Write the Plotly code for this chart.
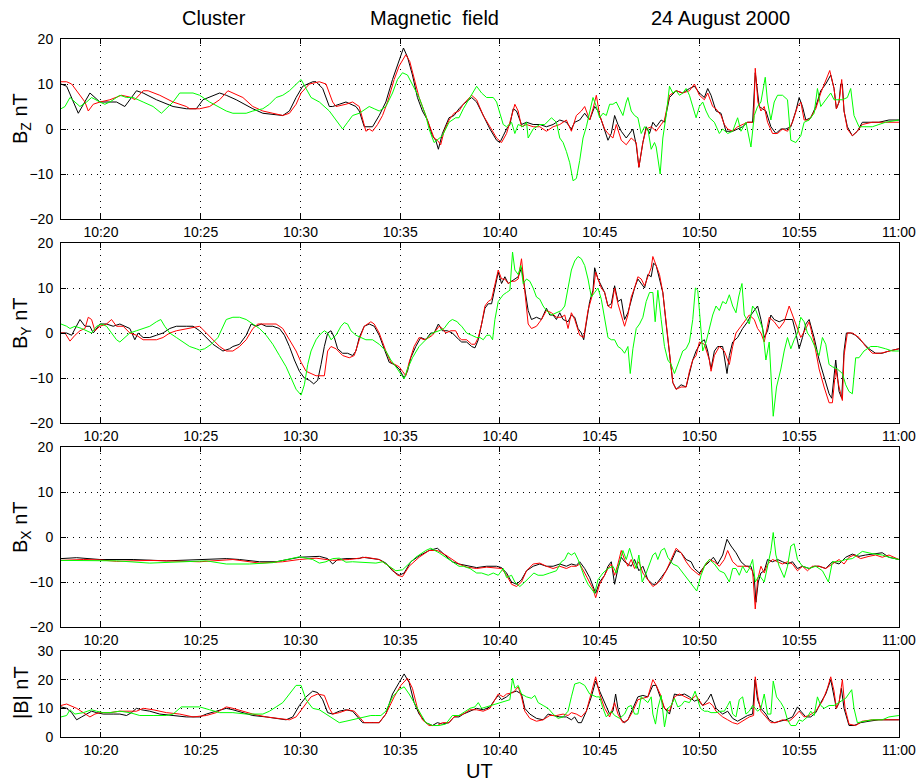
import plotly.graph_objects as go
from datetime import datetime, timedelta

# Cluster FGM magnetic field, 24 August 2000, 10:18-11:00 UT.
# Each series: (seconds after 10:18:00 UT, value in nT).
# C1 black, C2 red, C3 green.

BZ_C1 = [(0,10),(17,9.5),(52,3.5),(87,8),(117,6),(157,6),(167,6),(192,5),(227,8.5),(247,8),(287,6.5),(337,5),(377,4.5),(407,4.5),(427,6.5),(477,8),(497,7.5),(527,6.5),(577,4.5),(607,3.5),(647,3.2),(667,3),(687,4),(707,7),(727,9.5),(757,10.5),(767,10.5),(787,9),(807,5),(817,5),(837,5.5),(857,6),(887,5),(897,4),(912,0.5),(937,0.5),(957,3),(977,6),(997,11),(1017,15),(1030,18),(1042,16),(1057,12),(1072,7),(1087,4),(1102,2),(1117,-1.5),(1127,-2.5),(1135,-4.5),(1147,-1),(1167,2.5),(1182,3),(1197,4.5),
         (1210,5.5),(1235,7),(1250,6),(1270,3),(1290,0),(1310,-2.5),(1320,-3),(1330,-1.5),(1340,0),(1350,1),(1360,4.5),(1370,4),(1385,1),(1400,1.5),(1420,1),(1440,1),(1460,0.5),(1480,1),(1500,2),(1520,1.5),(1535,0),(1545,1.5),(1560,2),(1575,3.5),(1590,2),(1605,5),(1615,4),(1625,2),(1635,-0.5),(1645,-2.5),(1655,-1),(1665,3),(1675,1),(1685,-0.5),(1700,-2),(1710,-1),(1720,0),(1730,-3.5),(1738,-8.5),(1750,-3),(1760,0.5),(1770,-1),(1780,1.5),(1790,0.5),(1805,2),(1815,1.5),(1830,7),(1850,8.5),(1870,8),(1890,9),(1905,9.5),(1920,8),(1935,7),(1945,9),(1955,7.5),(1970,4),(1985,3.5),(2000,-0.5),(2020,-0.5),(2035,0),(2050,0.5),(2065,1.5),(2080,1.5),(2088,12.5),(2100,5),(2110,4.5),(2120,4),(2135,0.5),(2150,-1),(2165,0),(2180,0),(2195,0.5),(2210,4),(2220,7),(2230,5),(2240,2),(2255,2.5),(2270,5),(2285,8.5),(2300,10),(2315,12),(2325,9),(2332,4.5),(2340,6),(2345,10),(2350,10),(2355,4),(2365,0.5),(2380,-1.5),(2395,-0.5),(2410,1.5),(2430,1.5),(2460,1.5),(2490,2),(2520,2)]

BZ_C2 = [(0,10.5),(17,10.5),(32,10),(52,8),(72,6),(82,4),(97,5.5),(117,6),(147,6.5),(182,7.5),(212,7),(222,6.5),(247,8.5),(262,8.5),(297,7.5),(337,6),(377,5),(387,4.5),(417,4.5),(447,5),(477,6.5),(502,8.5),(517,8),(547,7),(577,5),(607,4),(637,3.5),(667,3),(687,3.5),(707,5.5),(722,8),(747,10),(777,10.5),(797,10),(817,6),(827,5),(857,5.5),(877,6),(897,5),(907,2),(917,-0.5),(927,0),(937,-0.5),(952,1),(967,3),(982,6),(1002,11),(1017,14),(1037,16.5),(1049,15),(1062,11),(1077,7),(1092,4),(1107,1),(1122,-2),(1132,-2.5),(1142,-3.5),(1152,-0.5),(1167,2),(1182,3.5),(1197,4),
         (1210,5.5),(1235,7.5),(1250,6.5),(1270,3),(1290,0.5),(1310,-2),(1325,-3),(1340,-1),(1350,1.5),(1365,5.5),(1375,4),(1385,0.5),(1400,1),(1420,0.5),(1440,0.5),(1460,-0.5),(1480,0.5),(1500,1),(1520,2),(1535,-0.5),(1550,3),(1565,4),(1575,5),(1590,2),(1600,4.5),(1610,7.5),(1620,3),(1635,0),(1645,-1),(1660,-2),(1670,1),(1685,-2.5),(1700,-3.5),(1715,-2),(1730,-3),(1738,-8.5),(1750,-3),(1760,0),(1775,0.5),(1790,-0.5),(1805,1),(1815,2),(1830,7.5),(1850,8.5),(1870,8),(1890,8.5),(1905,10),(1920,7.5),(1935,6.5),(1945,8),(1960,5),(1970,4.5),(1985,3),(1995,1),(2005,0),(2020,-0.5),(2035,0.5),(2050,1),(2065,1.5),(2083,1.5),(2088,13.5),(2096,6),(2105,4),(2115,5),(2125,1.5),(2140,-1),(2155,-1),(2170,0),(2185,-0.5),(2200,1.5),(2215,5),(2225,6),(2235,2),(2250,2),(2270,4.5),(2285,8),(2300,11),(2312,13),(2325,9),(2332,4.5),(2340,6),(2348,11),(2355,4),(2365,0),(2380,-1.5),(2395,-0.5),(2410,1),(2440,1.5),(2480,1.5),(2520,1.5)]

BZ_C3 = [(0,4.5),(12,5),(27,7),(42,6),(57,5),(77,6),(92,7),(117,6),(132,5.5),(147,6),(177,7.5),(197,7),(217,7),(247,6),(277,5),(302,3.5),(317,4.5),(337,6),(357,8),(397,8),(417,7.5),(447,6),(497,4),(517,3.5),(557,3.5),(577,4),(607,4.5),(627,5.5),(647,7),(667,7.5),(687,8.5),(707,10),(722,11),(737,9),(752,7),(777,6),(807,4),(827,2),(847,0),(862,1.5),(877,3),(897,3.5),(917,4.5),(927,5),(942,4.5),(957,4),(977,5),(997,8),(1012,11),(1027,12.5),(1042,12),(1057,10),(1077,7),(1097,3),(1107,0),(1117,-2),(1122,-3),(1147,-1.5),(1167,1.5),(1187,2.5),(1197,2.5),
         (1210,4.5),(1230,7),(1250,9.5),(1265,8),(1280,7),(1300,7),(1310,6),(1320,3.5),(1330,1),(1340,0.5),(1355,1.5),(1365,-1),(1375,1),(1390,0.5),(1400,1.5),(1405,-2),(1420,0),(1440,1),(1455,1),(1475,2.5),(1490,1.5),(1500,-2),(1510,-3),(1520,-5),(1530,-7.5),(1540,-11.5),(1550,-11),(1560,-7),(1570,-2),(1580,0.5),(1590,3.5),(1600,7),(1610,5),(1620,2.5),(1630,3.5),(1640,3),(1650,5.5),(1660,5.5),(1670,6),(1680,4.5),(1690,3),(1700,6),(1705,7),(1715,4),(1725,3),(1735,2.5),(1745,-1),(1755,0.5),(1765,0),(1775,-4.5),(1785,-3),(1790,-4),(1795,-7),(1802,-10),(1810,-2),(1820,3),(1830,9.5),(1840,8),(1850,8.5),(1860,7.5),(1870,8),(1880,9),(1890,7.5),(1900,5),(1910,2.5),(1920,5),(1930,6),(1940,4),(1950,2.5),(1965,1.5),(1980,-1),(1990,0),(2005,-1),(2020,-0.5),(2035,2.5),(2045,-0.5),(2060,1.5),(2075,-4),(2085,3),(2095,5),(2105,6),(2118,11.5),(2125,6),(2135,2),(2145,6),(2155,7.5),(2170,7.5),(2185,6.5),(2190,2),(2195,-2.5),(2210,-3),(2225,-1.5),(2235,1.5),(2250,2),(2265,3.5),(2275,9),(2285,5),(2290,5.5),(2300,6.5),(2315,8),(2325,6.5),(2335,6.5),(2350,6.5),(2365,7),(2375,9),(2385,3),(2400,0.5),(2415,0.5),(2440,0.5),(2460,1),(2480,1.5),(2520,2)]

BY_C1 = [(0,0),(17,0),(32,-0.5),(42,1),(57,3),(72,1.5),(87,1.5),(97,0),(107,1),(117,2),(137,2),(157,1.5),(177,2),(192,1.5),(207,1),(222,-1.5),(232,0),(247,-1),(267,-1),(287,-0.5),(307,0),(327,1),(347,1.5),(377,1.5),(397,1.5),(417,0.5),(437,-1),(457,-2.5),(477,-3.5),(487,-4),(507,-3.5),(517,-3),(537,-2.5),(557,-0.5),(572,2),(587,1.5),(602,2),(617,1.5),(637,1.5),(657,1),(672,-0.5),(687,-3),(702,-6),(717,-8.5),(732,-10),(747,-10.5),(760,-11.3),(772,-10.5),(782,-7),(792,-3),(802,0),(812,0.5),(822,-1),(832,-3.5),(847,-4.5),(862,-4.5),(877,-5),(887,-4),(897,-1),(912,1.5),(927,2),(942,1.5),(957,-0.5),(972,-3.5),(987,-6.5),(1002,-7),(1017,-8),(1032,-10),(1042,-8.5),(1052,-5.5),(1067,-3),(1082,-1),(1097,-1.5),(1112,0),(1122,0),(1135,2),(1147,0.5),(1162,0.5),(1177,0),(1197,-1.5),
         (1205,-2),(1220,-2),(1235,-3),(1245,-3.3),(1255,-1.5),(1265,2),(1275,5.5),(1285,6.5),(1295,6.5),(1305,10),(1315,13.5),(1325,11),(1335,12.5),(1345,11),(1355,11.5),(1365,12),(1375,12.5),(1385,14.5),(1395,10),(1405,5),(1415,3),(1430,3.5),(1445,3),(1460,5.5),(1470,4),(1480,4),(1490,3),(1500,4.5),(1510,3),(1525,2.5),(1535,4),(1545,3.5),(1555,1),(1565,0),(1572,-1.5),(1580,2),(1590,7),(1600,9.5),(1605,14.5),(1615,12),(1625,10.5),(1635,9),(1645,6),(1655,6.5),(1665,10.5),(1675,7),(1685,7.5),(1695,3),(1705,4.5),(1715,7.5),(1725,10),(1735,12),(1745,11),(1755,10),(1765,13),(1775,12.5),(1782,15.5),(1790,15),(1800,12),(1810,9),(1820,2),(1830,-5),(1840,-11),(1850,-12.5),(1865,-11.5),(1880,-12),(1890,-9),(1900,-6),(1910,-4),(1925,-2),(1935,-1.5),(1945,-4),(1955,-8),(1965,-4),(1975,-3),(1990,-3),(2003,-9),(2010,-5),(2020,-2),(2035,-1),(2050,1),(2065,2.5),(2075,4),(2085,5),(2095,6),(2105,3),(2115,-1),(2125,0.5),(2135,4),(2145,3),(2160,2.5),(2175,3),(2190,3),(2200,3),(2210,0),(2220,-3.5),(2230,-1),(2240,2),(2250,3),(2265,-1),(2280,-6),(2295,-10),(2310,-13.5),(2318,-14.5),(2330,-6),(2340,-13),(2348,-14.5),(2355,-4),(2362,0),(2375,0),(2390,-0.5),(2410,-2),(2430,-3.5),(2450,-4.5),(2470,-4.5),(2490,-4),(2520,-3.5)]

BY_C2 = [(0,0),(12,0),(27,-1.8),(42,-0.5),(57,0.5),(72,1),(82,3.5),(92,3),(102,0.5),(117,1.5),(137,2),(152,3),(167,1.5),(187,1.5),(207,0),(227,-0.5),(247,-1.5),(267,-1.5),(287,-1.5),(307,-1),(327,0),(347,0.5),(377,1),(407,1.5),(417,1.5),(437,0),(457,-1.5),(477,-3),(497,-4),(517,-4),(537,-3),(557,-1.5),(577,1),(592,2),(607,2),(627,2),(647,2),(667,1),(687,-1.5),(707,-4),(722,-6.5),(737,-8.5),(752,-9),(767,-9.5),(782,-9.5),(792,-9.5),(802,-4),(812,-3),(827,-3.5),(847,-5),(867,-5.5),(882,-5),(897,-1.5),(912,1.5),(932,2.5),(942,2),(957,0),(977,-4),(992,-6.5),(1007,-7),(1017,-7.5),(1027,-8.5),(1037,-9.5),(1047,-6.5),(1062,-3),(1077,-1),(1092,-1.5),(1107,-1),(1117,-0.5),(1137,1.5),(1147,1),(1157,0),(1172,0.5),(1187,0.5),(1197,-1),
         (1205,-1.5),(1220,-1.5),(1235,-2.5),(1245,-2.5),(1255,-1),(1265,2),(1275,6),(1285,7),(1295,7.5),(1305,11),(1315,14),(1325,12),(1335,12),(1345,11),(1355,11.5),(1365,11.5),(1375,12),(1385,16.5),(1395,9),(1405,2),(1415,1),(1430,1.5),(1445,3),(1460,5),(1475,4.5),(1490,3.5),(1505,3.5),(1515,4),(1525,1),(1535,4.5),(1545,3),(1560,-0.5),(1572,-1),(1585,5),(1600,9),(1608,13.5),(1615,12),(1625,10),(1635,9),(1645,6),(1655,5.5),(1665,10),(1675,6.5),(1685,4),(1695,1.5),(1705,4),(1715,8),(1725,10),(1735,12.5),(1745,12),(1755,10.5),(1765,12.5),(1775,14.5),(1780,17),(1790,15),(1800,13),(1810,9),(1820,2),(1830,-5),(1840,-11),(1850,-12.5),(1865,-12),(1880,-12),(1890,-8.5),(1900,-6),(1910,-5),(1920,-2),(1935,-2.5),(1950,-6),(1955,-8.5),(1965,-5),(1980,-3),(1995,-4),(2010,-7),(2020,-3),(2030,0),(2045,1.5),(2060,3),(2070,4),(2085,3),(2095,1),(2105,0),(2115,-2),(2130,3.5),(2145,2.5),(2160,1),(2175,2.5),(2190,6),(2200,4),(2210,2),(2225,-1),(2240,1),(2250,2.5),(2265,-2),(2280,-8),(2295,-12),(2310,-15.5),(2320,-15.5),(2330,-8),(2340,-12),(2350,-15),(2355,-5),(2365,0),(2380,0),(2400,-1),(2420,-3),(2440,-4.5),(2465,-4.5),(2490,-4),(2520,-3.5)]

BY_C3 = [(0,2),(17,1.5),(27,1),(42,1.5),(62,1),(77,0.5),(92,0),(107,1.5),(122,2),(137,1.5),(152,0),(167,-1.5),(177,-2),(192,-1),(207,0),(227,0.5),(247,1),(267,1.5),(287,2.5),(300,3),(312,1.5),(327,0),(347,-1),(367,-2),(387,-3),(407,-3.5),(417,-3.8),(432,-3.5),(452,-2.5),(472,-1),(487,1.5),(497,3),(517,3.5),(537,3.5),(557,3),(577,2),(597,1),(617,-0.5),(637,-2.5),(657,-5),(677,-7.5),(692,-10),(707,-12.5),(722,-13.8),(732,-11.5),(742,-7),(752,-4),(767,-1.5),(777,-0.5),(792,0.5),(802,0),(812,-1.5),(827,-0.5),(842,1.5),(852,2.3),(862,2),(872,0.5),(887,-0.5),(902,-1),(917,-1.5),(937,-1.5),(957,-2.5),(977,-4),(992,-6),(1007,-7.5),(1022,-9),(1032,-10.2),(1042,-8),(1057,-5.5),(1077,-3),(1097,-1.5),(1117,0),(1137,0.5),(1152,1),(1167,2.5),(1177,3),(1192,2.5),(1197,2),
         (1205,1.5),(1220,0),(1235,-0.5),(1250,-1),(1260,-1),(1270,-1.5),(1280,-0.5),(1290,-0.5),(1298,-1.5),(1305,3),(1315,7),(1330,8.5),(1340,9),(1350,9.5),(1358,18),(1365,14),(1375,13),(1383,15),(1390,11),(1400,12),(1410,11.5),(1420,10),(1430,8),(1440,7.5),(1450,6),(1460,5),(1475,4),(1490,4.5),(1505,5),(1515,6),(1525,10),(1535,14),(1545,16),(1555,17),(1565,16.5),(1575,15),(1585,12),(1595,8),(1605,9),(1615,10),(1625,7.5),(1635,3),(1645,-1),(1655,-1.5),(1665,-1.5),(1675,-3),(1685,-3.5),(1695,-4.5),(1705,-3),(1712,-9),(1720,-3.5),(1730,1),(1740,2),(1750,3.5),(1760,7),(1770,9),(1780,9),(1787,2.5),(1795,9.5),(1805,3),(1815,-3),(1825,-6),(1835,-7),(1845,-9),(1855,-7),(1870,-4),(1880,-3.5),(1890,-2),(1900,3),(1908,10),(1915,9.5),(1923,2),(1930,-4),(1940,-2),(1950,1),(1960,4),(1970,6),(1980,5),(1990,7),(2000,6.5),(2010,8.5),(2020,6),(2030,4.5),(2038,8),(2048,11),(2055,4),(2070,2),(2080,6),(2090,5),(2100,3),(2110,1),(2120,-6),(2130,-2),(2142,-18.5),(2152,-12),(2165,-8),(2175,-4),(2185,-1),(2195,-3.5),(2205,-1.5),(2215,0),(2225,3.5),(2235,2.5),(2245,0),(2255,-1),(2270,-3.5),(2280,-5),(2290,-1),(2300,-2.5),(2310,-7),(2320,-7.5),(2335,-8),(2350,-9),(2360,-11.5),(2370,-13),(2380,-13.5),(2390,-5.5),(2400,-5.5),(2415,-4),(2435,-3),(2455,-3),(2480,-3.5),(2500,-4),(2520,-4)]

BX_C1 = [(0,-4.8),(47,-4.6),(117,-5),(217,-5),(317,-5.3),(417,-5.1),(497,-4.8),(537,-5),(597,-5.5),(647,-5.5),(687,-5),(717,-4.5),(777,-4.3),(802,-4.8),(817,-6),(832,-5),(857,-4.8),(897,-4.8),(907,-4.5),(927,-4.7),(957,-5),(977,-5.8),(997,-7.5),(1017,-8.5),(1032,-8),(1052,-5.5),(1077,-4.2),(1107,-3),(1132,-2.5),(1147,-3.5),(1177,-5.5),(1197,-6),
         (1220,-6.3),(1250,-6.8),(1280,-6.5),(1310,-6.5),(1325,-6.8),(1340,-8),(1355,-10),(1370,-10.5),(1385,-9.5),(1400,-7.5),(1420,-6.5),(1440,-6),(1460,-6.5),(1480,-6.5),(1500,-6),(1520,-6.5),(1535,-6),(1550,-6.3),(1560,-5.5),(1575,-7),(1590,-9),(1600,-11),(1608,-12.5),(1620,-10),(1635,-8.5),(1645,-6.5),(1655,-5.5),(1665,-10.5),(1675,-7),(1685,-4.5),(1695,-5.5),(1705,-6),(1715,-6.5),(1725,-5),(1738,-7.5),(1750,-6.5),(1765,-9.5),(1780,-10.5),(1790,-10.5),(1805,-9),(1820,-7.5),(1835,-5.5),(1850,-3),(1865,-3.5),(1880,-5),(1895,-5.5),(1905,-7),(1920,-8),(1935,-6.5),(1950,-5.5),(1962,-4.5),(1975,-6),(1990,-4),(2003,-0.5),(2015,-2),(2030,-3.5),(2045,-5.5),(2060,-6.5),(2075,-6.5),(2085,-9),(2090,-14.5),(2097,-10),(2105,-8),(2115,-7.5),(2125,-5),(2140,-5.5),(2155,-5),(2170,-5.5),(2185,-6),(2200,-5.5),(2215,-7),(2230,-6.5),(2250,-7),(2265,-6.5),(2280,-6.5),(2300,-7),(2320,-5.5),(2340,-6),(2360,-4.5),(2380,-3.8),(2400,-4.3),(2420,-4),(2450,-3.8),(2470,-3.5),(2490,-4.5),(2520,-5)]

BX_C2 = [(0,-5.2),(67,-5),(117,-5.1),(167,-5.4),(267,-5.2),(417,-5.5),(517,-5),(597,-5.8),(667,-5.5),(717,-5),(767,-4.7),(817,-5.2),(867,-5),(917,-4.5),(957,-5),(987,-6.5),(1012,-8.5),(1027,-8.8),(1047,-6.5),(1077,-4.5),(1107,-3),(1132,-3),(1157,-4),(1177,-5),(1197,-6),
         (1220,-6.7),(1250,-7),(1280,-6.7),(1310,-6.8),(1325,-7),(1340,-8.5),(1355,-10.5),(1370,-11),(1385,-10),(1400,-7.5),(1420,-6),(1440,-5.8),(1460,-6.5),(1480,-7),(1500,-6.5),(1520,-7),(1535,-6.5),(1550,-6.5),(1560,-6),(1575,-8),(1590,-10),(1600,-11.5),(1608,-13.5),(1620,-10.5),(1635,-8.5),(1645,-7),(1655,-6),(1665,-8.5),(1675,-6),(1685,-3),(1695,-5),(1705,-6.5),(1715,-5),(1725,-7),(1738,-5.5),(1750,-8),(1765,-9.5),(1780,-11),(1790,-10.5),(1805,-9.5),(1820,-7.5),(1835,-5),(1850,-2.5),(1865,-3.5),(1880,-5.5),(1895,-7),(1910,-8),(1920,-8.5),(1935,-6.5),(1950,-5),(1965,-5.5),(1980,-6.5),(1995,-5),(2005,-3),(2020,-5.5),(2035,-6.5),(2050,-6.5),(2065,-6.5),(2080,-7.5),(2088,-16),(2095,-9.5),(2105,-6.5),(2115,-8),(2125,-6),(2140,-5),(2155,-5.5),(2170,-6),(2185,-5.5),(2200,-6),(2215,-7.5),(2230,-6.5),(2245,-7.5),(2260,-6.5),(2280,-6.5),(2300,-7),(2320,-6),(2340,-5),(2355,-6),(2370,-4.5),(2385,-4),(2405,-4.8),(2430,-4.3),(2450,-4),(2470,-4.5),(2490,-4),(2520,-5)]

BX_C3 = [(0,-5.2),(67,-5.2),(167,-5.3),(267,-5.8),(367,-5.5),(437,-5.3),(497,-6),(567,-6),(637,-5.7),(677,-5),(717,-4.4),(757,-5),(777,-5.8),(797,-5.5),(817,-4.8),(837,-4.7),(857,-5.6),(877,-5.5),(917,-5.6),(947,-5.8),(967,-5.5),(987,-6.5),(1007,-7.5),(1027,-7.3),(1047,-6),(1067,-4.5),(1097,-3),(1112,-2.5),(1137,-3.5),(1167,-5),(1197,-6.5),
         (1210,-6.5),(1230,-7),(1250,-8),(1265,-8),(1285,-8.5),(1300,-8),(1315,-8.5),(1330,-7),(1340,-9),(1355,-8.5),(1365,-10),(1380,-11),(1395,-10),(1410,-9),(1422,-8),(1435,-8.5),(1450,-8.5),(1470,-8),(1490,-7.5),(1505,-5.5),(1515,-5),(1525,-3.5),(1535,-4),(1545,-3.5),(1555,-5),(1565,-7),(1575,-9),(1585,-10.5),(1595,-11.5),(1605,-12.5),(1615,-9.5),(1630,-8),(1645,-7),(1660,-6.5),(1670,-8),(1680,-5.5),(1690,-3),(1700,-5),(1710,-2.5),(1720,-5),(1730,-7),(1738,-4),(1748,-10),(1760,-8),(1770,-6),(1780,-4),(1788,-3.5),(1795,-5),(1805,-3),(1815,-2.5),(1825,-4.5),(1840,-6),(1855,-6.5),(1870,-8),(1885,-9.5),(1900,-11),(1912,-12),(1925,-8.5),(1938,-6),(1950,-5),(1965,-6),(1980,-7.5),(1995,-8),(2010,-10),(2020,-7),(2030,-7),(2040,-8.5),(2050,-6.5),(2062,-8),(2070,-7),(2080,-5),(2088,-10),(2100,-8.5),(2115,-10),(2125,-6.5),(2135,-3),(2142,1),(2150,-4),(2160,-6.5),(2175,-9),(2185,-6.5),(2195,-2),(2205,-1.5),(2215,-5),(2230,-6.5),(2250,-7),(2270,-6.5),(2290,-7.5),(2308,-10),(2320,-5.5),(2340,-5.5),(2360,-5),(2380,-4.8),(2410,-3.2),(2440,-3.7),(2470,-4),(2490,-4.5),(2520,-5)]

BT_C1 = [(0,10.5),(17,10),(32,8.5),(47,6),(62,7),(77,8),(92,9),(107,8.5),(127,8),(157,8),(177,8),(197,7.5),(212,8.5),(227,10),(242,9.5),(267,9),(297,8),(337,7.5),(377,7),(417,7),(437,8),(467,9),(497,10),(517,9.5),(547,8.5),(577,7.5),(617,7),(657,6.5),(677,6),(697,7),(717,11),(737,14),(757,16),(772,15.5),(787,13),(802,8.5),(817,8),(837,9),(857,9.5),(877,9),(892,7),(907,5),(927,5),(957,5),(977,8),(997,15),(1017,19),(1032,22),(1047,19),(1062,12),(1077,8),(1097,5),(1117,4),(1132,5),(1147,4.5),(1167,5),(1182,7),(1197,7),
         (1210,8),(1230,9),(1250,10),(1270,9.5),(1290,10.5),(1305,13),(1315,14.5),(1325,13),(1340,14),(1355,15.5),(1370,16),(1385,15),(1395,10),(1410,8),(1430,6.5),(1450,6),(1465,8),(1480,7.5),(1500,7),(1520,7),(1535,6),(1545,7),(1555,5),(1565,5),(1580,9),(1595,14),(1608,19.5),(1620,16),(1635,12),(1650,8),(1660,9),(1668,15),(1675,10),(1685,6),(1695,5),(1705,6),(1720,10),(1735,14),(1750,14.5),(1765,14),(1780,18),(1790,18),(1802,14),(1815,10),(1830,8),(1845,15),(1860,14.5),(1875,15),(1890,14),(1905,12.5),(1915,13),(1930,11),(1945,13),(1955,15),(1970,10),(1990,8),(2005,9),(2020,6.5),(2035,5.5),(2050,6.5),(2065,7.5),(2080,8),(2087,20),(2095,13),(2105,10),(2120,8),(2130,6),(2145,5),(2160,5.5),(2180,6),(2200,7),(2215,10.5),(2225,9),(2240,7),(2255,7),(2270,8.5),(2285,12),(2300,15),(2315,20),(2325,14),(2332,10),(2340,12),(2347,17),(2355,10),(2370,4),(2385,4),(2405,5),(2430,5.5),(2460,6),(2490,6),(2520,6)]

BT_C2 = [(0,11),(17,11.5),(47,10),(72,8),(87,7),(102,8),(117,8.5),(147,8.5),(177,9),(207,9),(227,9),(247,10),(277,9.5),(317,8.5),(357,8),(397,7),(437,7.5),(467,8.5),(497,10.5),(517,10),(547,9),(577,8),(617,7),(657,6.5),(687,6),(707,7),(727,10),(752,14),(772,15),(792,14.5),(807,10),(817,8),(837,8.5),(862,9.5),(882,9),(897,7),(912,5),(937,5),(957,5),(977,8),(1002,14),(1022,18),(1042,20.5),(1057,17),(1072,10),(1087,6),(1107,4),(1132,4),(1147,5),(1167,5),(1182,7),(1197,7.5),
         (1210,8),(1230,9.5),(1250,9.5),(1270,9),(1290,10),(1305,13),(1315,15),(1330,14),(1340,15),(1360,15.5),(1375,17.5),(1385,14),(1395,9),(1410,6.5),(1430,5.5),(1450,6),(1470,7.5),(1490,7.5),(1510,8),(1525,7.5),(1535,8.5),(1550,8),(1565,7),(1580,9),(1595,15),(1608,21),(1620,15),(1635,10),(1650,7),(1665,12),(1675,8),(1690,5),(1705,6),(1720,9),(1735,13),(1750,13.5),(1765,14),(1780,20),(1790,18),(1802,15),(1815,10),(1830,9),(1845,14),(1860,15),(1880,14),(1895,13),(1910,14.5),(1930,11),(1950,12),(1960,11),(1970,9),(1990,7),(2005,6),(2020,5),(2035,4.5),(2050,5.5),(2070,7),(2083,7.5),(2088,21),(2096,14),(2105,9),(2120,7),(2135,5),(2150,5),(2170,6),(2190,5.5),(2205,7),(2220,9),(2235,7),(2250,7.5),(2270,9),(2290,12.5),(2305,17),(2315,21),(2325,16),(2332,10),(2340,12),(2350,20),(2358,10),(2370,4.5),(2390,4),(2410,5.5),(2440,6),(2470,6),(2520,6)]

BT_C3 = [(0,7),(17,7.5),(27,9.5),(42,8),(67,8.5),(92,9.5),(107,9),(127,8.5),(147,8.5),(177,9),(207,8.5),(237,7.5),(277,7.5),(317,7.5),(337,8),(362,10.5),(397,10.5),(417,10.5),(447,9.5),(477,8.5),(517,8.5),(557,8),(607,8),(627,9),(647,10.5),(667,12),(687,15),(707,18),(722,18),(737,13),(757,10),(777,9.5),(797,8),(817,6.5),(837,5),(857,5.5),(877,6),(897,6.5),(917,7),(932,7.5),(947,7.5),(962,7.5),(977,9),(997,14),(1017,16.5),(1032,17.5),(1047,15),(1062,12),(1077,9),(1097,5),(1117,4),(1137,4),(1157,4.5),(1177,7.5),(1197,7.5),
         (1210,8.5),(1230,10),(1245,10.5),(1255,12),(1265,10),(1280,10.5),(1295,11),(1310,11.5),(1325,12),(1335,12.5),(1350,13),(1358,20.5),(1365,17),(1375,18),(1385,15),(1400,14),(1415,13.5),(1425,14.5),(1435,12),(1450,11),(1465,10),(1480,8),(1495,6.5),(1510,7),(1525,9),(1535,14),(1545,18.5),(1560,19),(1575,18),(1590,15),(1600,14.5),(1610,14),(1620,14),(1630,10),(1640,7),(1655,9),(1665,7.5),(1680,6.5),(1695,8),(1705,10.5),(1715,11),(1725,8),(1735,8),(1745,14),(1755,13),(1765,12),(1775,14),(1780,8),(1788,4.5),(1795,10),(1805,14.5),(1815,3.5),(1825,10),(1835,11),(1845,13.5),(1855,10.5),(1865,11),(1875,12.5),(1890,12),(1900,14),(1907,16),(1915,13),(1923,10),(1935,9),(1945,9),(1955,8.5),(1970,8.5),(1985,9),(1995,9),(2005,11),(2012,12.5),(2020,8),(2030,7),(2040,13),(2050,14),(2060,8),(2070,9),(2080,11),(2095,9),(2105,10),(2115,15),(2125,8),(2135,8),(2142,19.5),(2152,14),(2165,12),(2175,10),(2185,6),(2195,4),(2210,4),(2220,6),(2230,5.5),(2245,7),(2255,9),(2265,7.5),(2275,14),(2285,11),(2295,10),(2310,11),(2325,11),(2340,12),(2360,13.5),(2378,16.5),(2385,10),(2395,5),(2415,5.5),(2440,6),(2470,6),(2490,7),(2520,7.5)]

PANELS = [
    ("B<sub>Z</sub> nT", [BZ_C1, BZ_C2, BZ_C3], [-20, 20], [-20, -10, 0, 10, 20]),
    ("B<sub>Y</sub> nT", [BY_C1, BY_C2, BY_C3], [-20, 20], [-20, -10, 0, 10, 20]),
    ("B<sub>X</sub> nT", [BX_C1, BX_C2, BX_C3], [-20, 20], [-20, -10, 0, 10, 20]),
    ("|B| nT", [BT_C1, BT_C2, BT_C3], [0, 30], [0, 10, 20, 30]),
]
SC_COLORS = ["#000000", "#ff0000", "#00ff00"]
T0 = datetime(2000, 8, 24, 10, 18, 0)
T1 = datetime(2000, 8, 24, 11, 0, 0)
TICK_TIMES = [datetime(2000, 8, 24, 10, 20) + timedelta(minutes=5 * k) for k in range(9)]

# page geometry (pixels)
W, H = 916, 783
L, R, TOP, BOT = 61, 899, 39, 737
PANEL_PX = [(39, 219), (243, 423), (447, 627), (651, 737)]
LABEL_CY = [119, 323, 527, 693]


def fy(py):
    return (BOT - py) / (BOT - TOP)


def fx(px):
    return (px - L) / (R - L)


FONT = "Liberation Sans, Arial, Helvetica, sans-serif"

fig = go.Figure()
layout = dict(
    width=W, height=H, showlegend=False,
    margin=dict(l=L, r=W - R, t=TOP, b=H - BOT, pad=0, autoexpand=False),
    paper_bgcolor="white", plot_bgcolor="white",
    font=dict(family=FONT, size=14, color="black"),
)

for i, (label, series, yr, yticks) in enumerate(PANELS):
    n = "" if i == 0 else str(i + 1)
    for pairs, col in zip(series, SC_COLORS):
        fig.add_trace(go.Scatter(
            x=[T0 + timedelta(seconds=s) for s, _ in pairs],
            y=[v for _, v in pairs],
            mode="lines", line=dict(color=col, width=1),
            xaxis="x" + n, yaxis="y" + n, hoverinfo="skip",
        ))
    top, bottom = PANEL_PX[i]
    common = dict(
        showline=True, linecolor="black", linewidth=1, mirror="ticks",
        ticks="inside", ticklen=5, tickcolor="black", tickwidth=1,
        showgrid=True, gridcolor="black", gridwidth=1, griddash="1px,5px",
        zeroline=False, tickfont=dict(family=FONT, size=14, color="black"),
        ticklabeloverflow="allow", automargin=False,
    )
    layout["xaxis" + n] = dict(
        common, type="date", range=[T0, T1 + timedelta(milliseconds=300)],
        domain=[0, 1], anchor="y" + n,
        tickvals=TICK_TIMES, ticktext=[t.strftime("%H:%M") for t in TICK_TIMES],
        ticklabelstandoff=0,
    )
    layout["yaxis" + n] = dict(
        common, range=yr, tickvals=yticks, domain=[fy(bottom), fy(top)],
        anchor="x" + n, ticklabelstandoff=4,
    )

annotations = [
    dict(text="Cluster", x=fx(214), y=fy(18)),
    dict(text="Magnetic\u00a0\u00a0field", x=fx(434), y=fy(18)),
    dict(text="24 August 2000", x=fx(720), y=fy(18)),
    dict(text="UT", x=fx(479), y=fy(771)),
]
for a in annotations:
    a.update(xref="paper", yref="paper", showarrow=False,
             xanchor="center", yanchor="middle",
             font=dict(family=FONT, size=20, color="black"))
for i, (label, *_rest) in enumerate(PANELS):
    annotations.append(dict(
        text=label, x=fx(21), y=fy(LABEL_CY[i]), xref="paper", yref="paper",
        showarrow=False, textangle=-90, xanchor="center", yanchor="middle",
        font=dict(family=FONT, size=20, color="black"),
    ))
layout["annotations"] = annotations

fig.update_layout(**layout)
fig.write_html("out.html")
